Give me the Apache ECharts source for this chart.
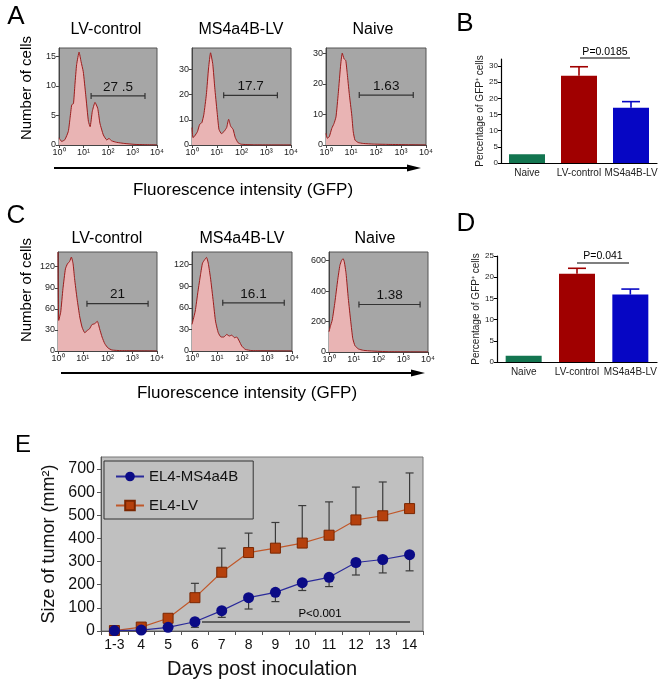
<!DOCTYPE html>
<html><head><meta charset="utf-8">
<script src="https://cdn.jsdelivr.net/npm/echarts@6/dist/echarts.min.js"></script>
<style>html,body{margin:0;padding:0;background:#fff}#c{width:661px;height:679px}</style>
</head><body><div id="c"></div>
<script>
// ================= DATA =================
// Flow histograms: [log10 fluorescence, number of cells]
const decadeLabels = ['10⁰','10¹','10²','10³','10⁴'];
const histA_LV = [[0,1.2],[0.11,0.6],[0.24,0.9],[0.38,2.3],[0.45,4.5],[0.52,6.8],[0.59,7.0],[0.65,10.2],[0.72,13.6],[0.82,15.7],[0.90,14.1],[0.99,12.4],[1.09,8.5],[1.20,4.0],[1.27,3.1],[1.36,5.7],[1.47,7.2],[1.58,6.2],[1.67,3.7],[1.81,1.7],[1.95,0.85],[2.04,1.1],[2.15,0.7],[2.35,0.45],[2.69,0.25],[3.10,0.1],[3.5,0.05],[4,0]];
const histA_MS = [[0,6.9],[0.04,2.9],[0.11,3.6],[0.22,5.3],[0.31,8.2],[0.40,8.9],[0.48,12.2],[0.58,20],[0.67,30.6],[0.75,36.6],[0.84,32],[0.92,22.7],[1.01,13.5],[1.09,6.2],[1.19,4.5],[1.29,5.3],[1.40,6.9],[1.48,10.2],[1.56,7.5],[1.66,6.2],[1.75,2.9],[1.86,0.9],[1.99,0.3],[2.53,0.05],[4,0]];
const histA_Naive = [[0,3.8],[0.05,2.2],[0.13,2.7],[0.23,5.4],[0.32,7.0],[0.40,9.2],[0.49,16.8],[0.59,26.5],[0.65,30],[0.72,28.2],[0.79,27.6],[0.85,23.3],[0.93,16.8],[1.03,9.8],[1.09,4.3],[1.16,1.6],[1.29,0.8],[1.49,0.5],[1.89,0.3],[2.43,0.2],[4,0]];
const histC_LV = [[0,141],[0.03,43.6],[0.11,55.5],[0.20,88.7],[0.30,117],[0.38,124],[0.47,127.6],[0.54,133.8],[0.61,124],[0.67,103],[0.77,74.5],[0.88,48.4],[0.97,34.2],[1.08,26.1],[1.19,29.4],[1.28,31.8],[1.37,37.5],[1.48,38.9],[1.59,42.2],[1.68,31.8],[1.78,19.9],[1.89,10.4],[2.02,4.3],[2.18,1.4],[2.56,0.5],[4,0]];
const histC_MS = [[0,37],[0.05,43.8],[0.13,55.4],[0.24,83],[0.34,106],[0.42,122],[0.51,127],[0.58,130],[0.65,122],[0.74,101.5],[0.85,69],[0.94,41.5],[1.05,25.4],[1.16,19.4],[1.27,19.4],[1.39,23],[1.49,20.8],[1.59,22],[1.70,18.5],[1.79,19.4],[1.89,13.8],[1.99,6.9],[2.13,2.3],[2.40,0.5],[4,0]];
const histC_Naive = [[0,133],[0.05,166],[0.13,209],[0.24,329],[0.35,471],[0.44,569],[0.51,602],[0.57,613],[0.62,591],[0.69,515],[0.78,351],[0.88,199],[0.96,89],[1.05,41],[1.19,20],[1.39,11],[1.72,6.5],[2.40,2],[4,0]];
const histYMax = [16.4, 38.5, 31.7, 141, 137.5, 657];
const histTicks = [[0,5,10,15],[0,10,20,30],[0,10,20,30],[0,30,60,90,120],[0,30,60,90,120],[0,200,400,600]];
const histTitles = ['LV-control','MS4a4B-LV','Naive','LV-control','MS4a4B-LV','Naive'];
// gates: low / high (log10), height (cells), percentage text
const gateLo = [1.31, 1.28, 1.33, 1.17, 1.23, 1.21];
const gateHi = [3.51, 3.45, 3.49, 3.64, 3.69, 3.68];
const gateY  = [8.3, 19.7, 16.3, 67.4, 66.9, 312];
const gateText = ['27 .5','17.7','1.63','21','16.1','1.38'];

// Bar charts (B, D)
const barCats = ['Naive','LV-control','MS4a4B-LV'];
const barColors = ['#137550','#a00000','#0606c4'];
const bMean = [2.7, 27.0, 17.1];
const bSem  = [0, 2.8, 1.9];
const dMean = [1.5, 20.8, 15.9];
const dSem  = [0, 1.3, 1.3];
const bTicks = [0,5,10,15,20,25,30];
const dTicks = [0,5,10,15,20,25];

// Tumor growth (E)
const days = ['1-3','4','5','6','7','8','9','10','11','12','13','14'];
const ms4a4bMean = [2, 4, 16, 40, 88, 144, 167, 209, 232, 296, 309, 330];
const ms4a4bErr  = [0, 0, 0, 24, 29, 49, 40, 34, 40, 54, 58, 70];
const lvMean = [2, 17, 55, 144, 254, 339, 358, 380, 414, 480, 498, 529];
const lvErr  = [0, 0, 0, 62, 104, 84, 111, 162, 144, 142, 146, 154];
const eTicks = [0,100,200,300,400,500,600,700];

// ================= CHART =================
const FF = "'Liberation Sans', Arial, Helvetica, sans-serif";
const chart = echarts.init(document.getElementById('c'));

const histGrids = [
  {left:59, top:48, width:98, height:97},
  {left:192, top:48, width:99, height:97},
  {left:326, top:48, width:100, height:97},
  {left:58, top:252, width:99, height:99},
  {left:192, top:252, width:100, height:99},
  {left:329, top:252, width:99, height:100}
];
const histData = [histA_LV, histA_MS, histA_Naive, histC_LV, histC_MS, histC_Naive];

const grids = histGrids.map(g => Object.assign({}, g, {show:true, backgroundColor:'#a6a6a6', borderColor:'#555', borderWidth:1, outerBoundsMode:'none'}));
grids.push({left:501, top:59, width:156, height:104, outerBoundsMode:'none'});
grids.push({left:497, top:256, width:160, height:106, outerBoundsMode:'none'});
grids.push({left:101, top:457, width:322, height:174, show:true, backgroundColor:'#c0c0c0', borderColor:'#777', borderWidth:1, outerBoundsMode:'none'});

const xAxes = [], yAxes = [], series = [];

function gateRender(text) {
  return function(params, api) {
    const a = api.coord([api.value(0), api.value(2)]);
    const b = api.coord([api.value(1), api.value(2)]);
    const st = {stroke:'#333', lineWidth:1.2};
    return {type:'group', children:[
      {type:'line', shape:{x1:a[0], y1:a[1], x2:b[0], y2:b[1]}, style:st},
      {type:'line', shape:{x1:a[0], y1:a[1]-3, x2:a[0], y2:a[1]+3}, style:st},
      {type:'line', shape:{x1:b[0], y1:b[1]-3, x2:b[0], y2:b[1]+3}, style:st},
      {type:'text', x:(a[0]+b[0])/2, y:a[1]-2, style:{text:text, fontSize:13.5, fontFamily:FF, fill:'#111',
        align:'center', verticalAlign:'bottom', textAlign:'center', textVerticalAlign:'bottom'}}
    ]};
  };
}

histData.forEach((d, i) => {
  xAxes.push({type:'value', gridIndex:i, min:0, max:4, interval:1,
    axisLine:{show:true, onZero:false, lineStyle:{color:'#444'}},
    axisTick:{show:true, length:3, lineStyle:{color:'#444'}},
    axisLabel:{fontSize:9, margin:3, color:'#222', fontFamily:FF, formatter:v => decadeLabels[v]},
    splitLine:{show:false}});
  yAxes.push({type:'value', gridIndex:i, min:0, max:histYMax[i],
    axisLine:{show:true, onZero:false, lineStyle:{color:'#444'}},
    axisTick:{show:true, length:3, customValues:histTicks[i], lineStyle:{color:'#444'}},
    axisLabel:{fontSize:9, margin:3, color:'#222', fontFamily:FF, customValues:histTicks[i]},
    splitLine:{show:false}});
  series.push({type:'line', xAxisIndex:i, yAxisIndex:i, data:d, symbol:'none', smooth:0.15,
    lineStyle:{color:'#9b1c1c', width:1}, areaStyle:{color:'#e9b4b4', opacity:1}, z:2});
  series.push({type:'custom', xAxisIndex:i, yAxisIndex:i, z:3,
    renderItem:gateRender(gateText[i]),
    data:[[gateLo[i], gateHi[i], gateY[i]]]});
});

// Bar chart axes
function barAxes(gi, ymax, ticks) {
  xAxes.push({type:'category', gridIndex:gi, data:barCats,
    axisLine:{show:true, lineStyle:{color:'#000', width:1.2}}, axisTick:{show:false},
    axisLabel:{fontSize:10, margin:5, color:'#222', interval:0, fontFamily:FF}});
  yAxes.push({type:'value', gridIndex:gi, min:0, max:ymax,
    axisLine:{show:true, lineStyle:{color:'#000', width:1.2}},
    axisTick:{show:true, length:3, customValues:ticks, lineStyle:{color:'#000'}},
    axisLabel:{fontSize:8, margin:3, color:'#222', customValues:ticks, fontFamily:FF},
    splitLine:{show:false},
    name:'Percentage of GFP⁺ cells', nameLocation:'middle', nameGap:16,
    nameTextStyle:{fontSize:10, color:'#222', fontFamily:FF}});
}
barAxes(6, 32.2, bTicks);
barAxes(7, 25, dTicks);

function errRender(colorFn, capW, lw) {
  return function(params, api) {
    const x = api.value(0), a = api.value(1), b = api.value(2);
    const p1 = api.coord([x, a]), p2 = api.coord([x, b]);
    const c = colorFn(x);
    return {type:'group', children:[
      {type:'line', shape:{x1:p1[0], y1:p1[1], x2:p2[0], y2:p2[1]}, style:{stroke:c, lineWidth:lw}},
      {type:'line', shape:{x1:p2[0]-capW/2, y1:p2[1], x2:p2[0]+capW/2, y2:p2[1]}, style:{stroke:c, lineWidth:lw}}
    ]};
  };
}

[[6, bMean, bSem], [7, dMean, dSem]].forEach(([gi, m, s]) => {
  series.push({type:'bar', xAxisIndex:gi, yAxisIndex:gi, barWidth:36,
    data:m.map((v, k) => ({value:v, itemStyle:{color:barColors[k]}})), z:2});
  series.push({type:'custom', xAxisIndex:gi, yAxisIndex:gi, z:1,
    renderItem:errRender(x => barColors[x], 18, 1.6),
    data:m.map((v, k) => [k, v, v + s[k]]).filter((r, k) => s[k] > 0)});
});

// Panel E axes
xAxes.push({type:'category', gridIndex:8, data:days, boundaryGap:true,
  axisLine:{show:true, lineStyle:{color:'#555'}},
  axisTick:{show:true, length:4, alignWithLabel:false, interval:0, lineStyle:{color:'#555'}},
  axisLabel:{fontSize:14, margin:7, color:'#111', interval:0, fontFamily:FF},
  name:'Days post inoculation', nameLocation:'middle', nameGap:28,
  nameTextStyle:{fontSize:20, color:'#111', fontFamily:FF}});
yAxes.push({type:'value', gridIndex:8, min:0, max:752,
  axisLine:{show:true, lineStyle:{color:'#555'}},
  axisTick:{show:true, length:4, customValues:eTicks, lineStyle:{color:'#555'}},
  axisLabel:{fontSize:16, margin:6, color:'#111', customValues:eTicks, fontFamily:FF},
  splitLine:{show:false},
  name:'Size of tumor (mm²)', nameLocation:'middle', nameGap:43,
  nameTextStyle:{fontSize:18, color:'#111', fontFamily:FF}});

series.push({type:'custom', xAxisIndex:8, yAxisIndex:8, z:3,
  renderItem:errRender(() => '#3a3a3a', 8, 1.2),
  data:lvMean.map((v, k) => [k, v, v + lvErr[k]]).filter((r, k) => lvErr[k] > 0)});
series.push({type:'custom', xAxisIndex:8, yAxisIndex:8, z:3,
  renderItem:errRender(() => '#3a3a3a', 8, 1.2),
  data:ms4a4bMean.map((v, k) => [k, v, v - ms4a4bErr[k]]).filter((r, k) => ms4a4bErr[k] > 0)});
series.push({type:'line', name:'EL4-LV', xAxisIndex:8, yAxisIndex:8, data:lvMean, z:4,
  symbol:'rect', symbolSize:10, showAllSymbol:true,
  itemStyle:{color:'#b5400c', borderColor:'#7a2600', borderWidth:1},
  lineStyle:{color:'#c0582a', width:1.2}});
series.push({type:'line', name:'EL4-MS4a4B', xAxisIndex:8, yAxisIndex:8, data:ms4a4bMean, z:5,
  symbol:'circle', symbolSize:11, showAllSymbol:true,
  itemStyle:{color:'#0b0b86'},
  lineStyle:{color:'#2a2a9a', width:1.2}});

// ================= GRAPHIC (labels, arrows, annotations) =================
function txt(x, y, text, size, extra) {
  return Object.assign({type:'text', x:x, y:y, silent:true, z:10,
    style:{text:text, fontSize:size, fontFamily:FF, fill:'#000',
      align:'center', verticalAlign:'middle', textAlign:'center', textVerticalAlign:'middle'}}, extra || {});
}
const graphics = [
  txt(16, 17, 'A', 26), txt(465, 24, 'B', 26), txt(16, 216, 'C', 26), txt(466, 224, 'D', 26), txt(23, 445, 'E', 24),
  txt(106, 30, histTitles[0], 16), txt(241, 30, histTitles[1], 16), txt(373, 30, histTitles[2], 16),
  txt(107, 239, histTitles[3], 16), txt(242, 239, histTitles[4], 16), txt(375, 239, histTitles[5], 16),
  txt(27, 88, 'Number of cells', 15, {rotation:Math.PI/2}),
  txt(27, 290, 'Number of cells', 15, {rotation:Math.PI/2}),
  txt(243, 190, 'Fluorescence intensity (GFP)', 17),
  txt(247, 393, 'Fluorescence intensity (GFP)', 17),
  {type:'line', shape:{x1:54, y1:168, x2:410, y2:168}, style:{stroke:'#000', lineWidth:2.2}},
  {type:'polygon', shape:{points:[[407,164.5],[421,168],[407,171.5]]}, style:{fill:'#000'}},
  {type:'line', shape:{x1:61, y1:373, x2:414, y2:373}, style:{stroke:'#000', lineWidth:2.2}},
  {type:'polygon', shape:{points:[[411,369.5],[425,373],[411,376.5]]}, style:{fill:'#000'}},
  {type:'line', shape:{x1:580, y1:58, x2:630, y2:58}, style:{stroke:'#000', lineWidth:1.2}},
  txt(605, 52, 'P=0.0185', 10.5),
  {type:'line', shape:{x1:577, y1:263, x2:629, y2:263}, style:{stroke:'#000', lineWidth:1.2}},
  txt(603, 256, 'P=0.041', 10.5),
  {type:'line', shape:{x1:202, y1:622, x2:410, y2:622}, style:{stroke:'#000', lineWidth:1.2}},
  txt(320, 614, 'P<0.001', 11.5)
];

chart.setOption({
  animation:false,
  textStyle:{fontFamily:FF},
  grid:grids,
  xAxis:xAxes,
  yAxis:yAxes,
  series:series,
  legend:{data:['EL4-MS4a4B','EL4-LV'], orient:'vertical', left:104, top:461,
    padding:[8,15,6,11], itemWidth:28, itemHeight:12, itemGap:14, itemTextGap:9,
    textStyle:{fontSize:15, color:'#111', fontFamily:FF},
    backgroundColor:'#c0c0c0', borderColor:'#333', borderWidth:1},
  graphic:graphics
});
</script>
</body></html>
